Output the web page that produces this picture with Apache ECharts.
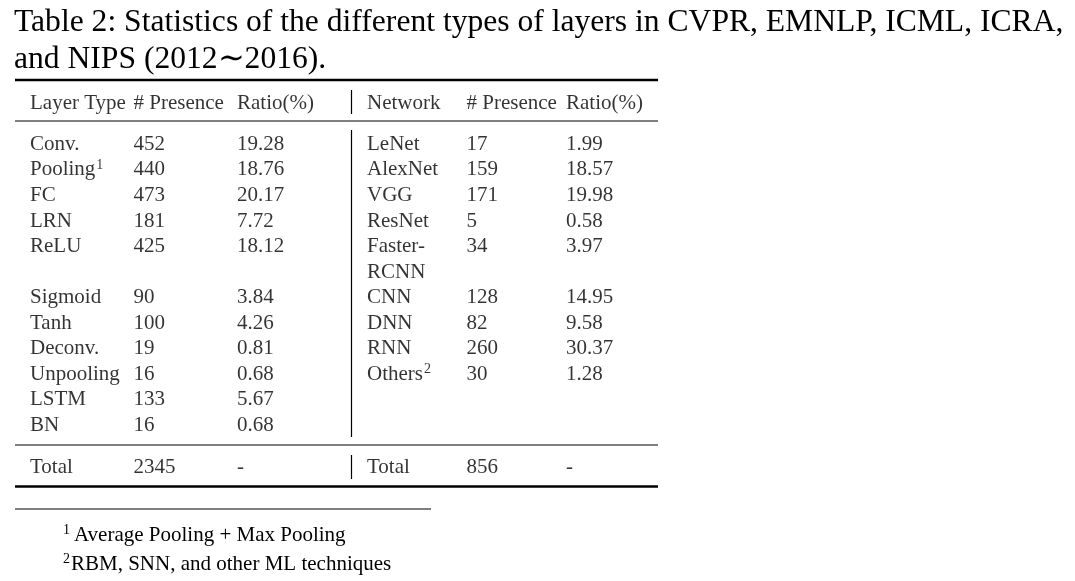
<!DOCTYPE html>
<html>
<head>
<meta charset="utf-8">
<title>Table 2</title>
<script src="https://cdn.jsdelivr.net/npm/echarts@6/dist/echarts.min.js"></script>
<style>
  html, body { margin: 0; padding: 0; background: #fff; }
  #table2 { width: 1075px; height: 581px; }
</style>
</head>
<body>
<div id="table2"></div>
<script>
// table data
var headerLeft = ['Layer Type', '# Presence', 'Ratio(%)'];
var headerRight = ['Network', '# Presence', 'Ratio(%)'];

var layerTypes = ['Conv.', 'Pooling', 'FC', 'LRN', 'ReLU', 'Sigmoid', 'Tanh', 'Deconv.', 'Unpooling', 'LSTM', 'BN'];
var layerCounts = [452, 440, 473, 181, 425, 90, 100, 19, 16, 133, 16];
var layerRatios = [19.28, 18.76, 20.17, 7.72, 18.12, 3.84, 4.26, 0.81, 0.68, 5.67, 0.68];

var networkNames = ['LeNet', 'AlexNet', 'VGG', 'ResNet', 'Faster-\nRCNN', 'CNN', 'DNN', 'RNN', 'Others'];
var networkCounts = [17, 159, 171, 5, 34, 128, 82, 260, 30];
var networkRatios = [1.99, 18.57, 19.98, 0.58, 3.97, 14.95, 9.58, 30.37, 1.28];

var layerTotal = 2345;
var networkTotal = 856;

// footnote markers
var noteMarks = { 'Pooling': 1, 'Others': 2 };
var footnotes = ['Average Pooling + Max Pooling', 'RBM, SNN, and other ML techniques'];

var FONT = 'Liberation Serif';

function withNote(name) {
    return noteMarks[name] ? name + '{sup|' + noteMarks[name] + '}' : name;
}

// every table row takes as many lines as its tallest cell
var rowCount = Math.max(layerTypes.length, networkNames.length);
var rowLine = [];
var nLines = 0;
for (var r = 0; r < rowCount; r++) {
    rowLine.push(nLines);
    var h = r < networkNames.length ? networkNames[r].split('\n').length : 1;
    nLines += h;
}

function cells(names, counts, ratios) {
    var out = [];
    names.forEach(function (name, i) {
        name.split('\n').forEach(function (part, k) {
            out.push({ value: [0, rowLine[i] + k], text: withNote(part) });
        });
        out.push({ value: [1, rowLine[i]], text: String(counts[i]) });
        out.push({ value: [2, rowLine[i]], text: ratios[i].toFixed(2) });
    });
    return out;
}

function rowCells(texts) {
    return texts.map(function (t, c) { return { value: [c, 0], text: t }; });
}

var bodyLines = [];
for (var i = 0; i < nLines; i++) bodyLines.push(String(i));

var sides = [
    { left: 30, width: 207, header: headerLeft, body: cells(layerTypes, layerCounts, layerRatios), total: ['Total', String(layerTotal), '-'] },
    { left: 367, width: 199, header: headerRight, body: cells(networkNames, networkCounts, networkRatios), total: ['Total', String(networkTotal), '-'] }
];
var bands = [
    { key: 'header', top: 91, height: 24, lines: ['0'] },
    { key: 'body', top: 131.6, height: 306.6, lines: bodyLines },
    { key: 'total', top: 455, height: 24, lines: ['0'] }
];

var grids = [], xAxes = [], yAxes = [], series = [];
sides.forEach(function (side) {
    bands.forEach(function (band) {
        var idx = grids.length;
        grids.push({ left: side.left, width: side.width, top: band.top, height: band.height, containLabel: false });
        xAxes.push({ type: 'category', gridIndex: idx, data: ['0', '1', '2'], boundaryGap: false, show: false });
        yAxes.push({ type: 'category', gridIndex: idx, data: band.lines, boundaryGap: true, inverse: true, show: false });
        var data = band.key === 'body' ? side.body : rowCells(side[band.key]);
        series.push({
            type: 'scatter',
            xAxisIndex: idx,
            yAxisIndex: idx,
            symbolSize: 0,
            silent: true,
            data: data,
            label: {
                show: true,
                position: 'right',
                distance: 0,
                color: '#000',
                fontFamily: FONT,
                fontSize: 21,
                formatter: function (p) { return p.data.text; },
                rich: {
                    sup: { fontFamily: FONT, fontSize: 14, color: '#000', padding: [0, 0, 10, 1] }
                }
            }
        });
    });
});

// booktabs rules
function hRule(y, x1, x2, w) {
    return { type: 'line', shape: { x1: x1, y1: y, x2: x2, y2: y }, style: { stroke: '#000', lineWidth: w }, silent: true };
}
function vRule(x, y1, y2) {
    return { type: 'line', shape: { x1: x, y1: y1, x2: x, y2: y2 }, style: { stroke: '#000', lineWidth: 1.2 }, silent: true };
}

var chart = echarts.init(document.getElementById('table2'), null, { renderer: 'canvas' });
chart.setOption({
    animation: false,
    backgroundColor: '#fff',
    title: {
        text: 'Table 2: Statistics of the different types of layers in CVPR, EMNLP, ICML, ICRA,\nand NIPS (2012\u223C2016).',
        left: 14,
        top: 4,
        padding: 0,
        textStyle: { fontFamily: FONT, fontSize: 31.6, fontWeight: 'normal', color: '#000', lineHeight: 37 }
    },
    grid: grids,
    xAxis: xAxes,
    yAxis: yAxes,
    series: series,
    graphic: [
        hRule(80, 15, 658, 2.5),
        hRule(121, 15, 658, 1.2),
        hRule(445, 15, 658, 1.2),
        hRule(486.5, 15, 658, 2.5),
        vRule(351.5, 90, 114),
        vRule(351.5, 130, 437),
        vRule(351.5, 455, 479),
        hRule(509, 15, 431, 1.2),
        {
            type: 'text',
            left: 63,
            top: 521,
            silent: true,
            style: {
                text: '{sup1|1}' + footnotes[0] + '\n{sup2|2}' + footnotes[1],
                fontFamily: FONT,
                fontSize: 21,
                lineHeight: 29,
                fill: '#000',
                rich: {
                    sup1: { fontFamily: FONT, fontSize: 14, fill: '#000', padding: [0, 4, 10, 0] },
                    sup2: { fontFamily: FONT, fontSize: 14, fill: '#000', padding: [0, 1, 10, 0] }
                }
            }
        }
    ]
});
</script>
</body>
</html>
